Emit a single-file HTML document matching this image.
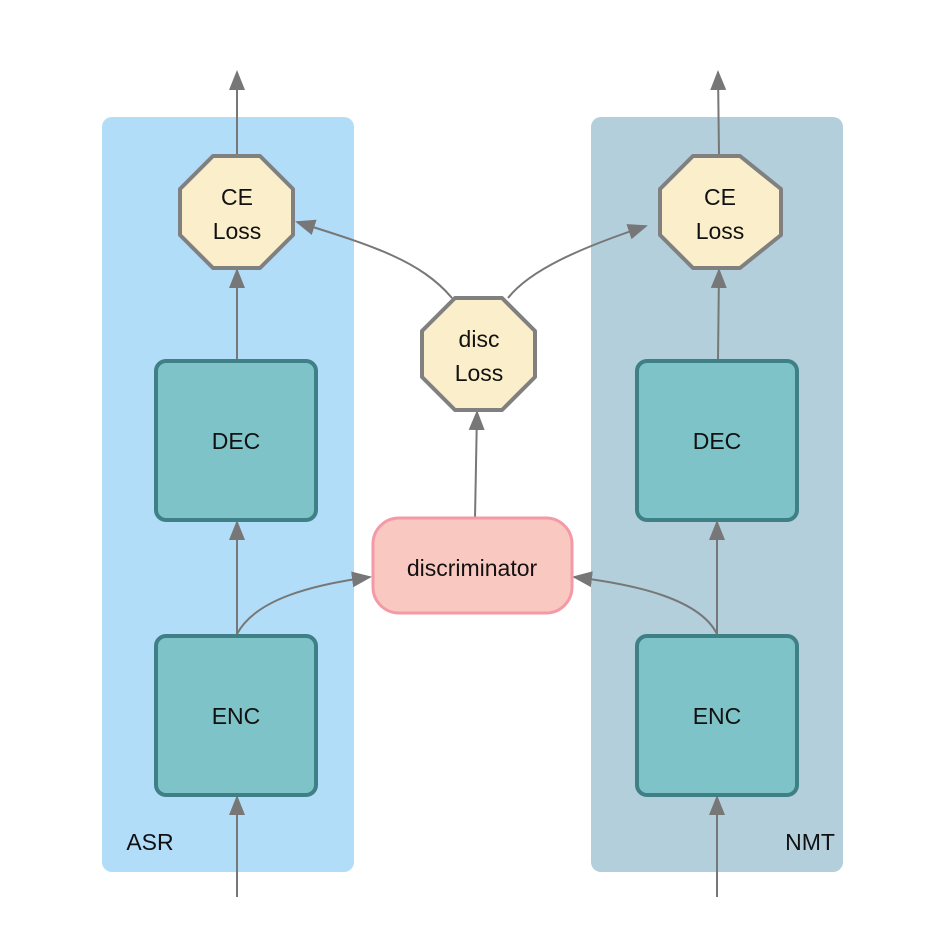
<!DOCTYPE html>
<html><head><meta charset="utf-8"><style>html,body{margin:0;padding:0;background:#fff}svg{display:block}</style></head>
<body>
<svg width="944" height="944" viewBox="0 0 944 944" xmlns="http://www.w3.org/2000/svg" font-family="Liberation Sans, Arial, sans-serif">
<defs>
<marker id="a" markerWidth="10" markerHeight="10" refX="9" refY="5" orient="auto" markerUnits="userSpaceOnUse" viewBox="0 0 10 10">
</marker>
<marker id="h" viewBox="0 0 20 20" refX="18" refY="10" markerWidth="20" markerHeight="20" markerUnits="userSpaceOnUse" orient="auto">
<path d="M0,2 L20,10 L0,18 z" fill="#777"/>
</marker>
</defs>
<rect x="102" y="117" width="252" height="755" rx="10" fill="#b1ddf9"/>
<rect x="591" y="117" width="252" height="755" rx="10" fill="#b3cfdc"/>

<g stroke="#777" stroke-width="2" fill="none" marker-end="url(#h)">
<line x1="237" y1="897" x2="237" y2="797"/>
<line x1="237" y1="634" x2="237" y2="522"/>
<line x1="237" y1="360" x2="237" y2="270"/>
<line x1="237" y1="155" x2="237" y2="72"/>
<line x1="717" y1="897" x2="717" y2="797"/>
<line x1="717" y1="634" x2="717" y2="522"/>
<line x1="718" y1="360" x2="719" y2="270"/>
<line x1="719" y1="155" x2="718" y2="72"/>
<line x1="475" y1="518" x2="477" y2="412"/>
<path d="M237,634 C255,600 310,585 370,577"/>
<path d="M717,634 C700,600 640,585 574,577"/>
<path d="M452,298 C420,260 370,245 297,222"/>
<path d="M508,298 C530,270 580,248 646,226"/>
</g>

<g fill="#7ec3c8" stroke="#3f8086" stroke-width="4">
<rect x="156" y="361" width="160" height="159" rx="10"/>
<rect x="156" y="636" width="160" height="159" rx="10"/>
<rect x="637" y="361" width="160" height="159" rx="10"/>
<rect x="637" y="636" width="160" height="159" rx="10"/>
</g>
<rect x="373" y="518" width="199" height="95" rx="26" fill="#f9c8c0" stroke="#f49aa6" stroke-width="3"/>

<g fill="#faeecb" stroke="#808080" stroke-width="4" stroke-linejoin="round">
<polygon points="213,156 260,156 293,189 293,235 260,268 213,268 180,235 180,189"/>
<polygon points="693,156 740,156 781,189 781,235 740,268 693,268 660,235 660,189" transform="translate(0,0)"/>
<polygon points="455,298 502,298 535,331 535,377 502,410 455,410 422,377 422,331"/>
</g>

<g font-size="23" fill="#111" text-anchor="middle">
<text x="237" y="205">CE</text><text x="237" y="239">Loss</text>
<text x="720" y="205">CE</text><text x="720" y="239">Loss</text>
<text x="479" y="347">disc</text><text x="479" y="381">Loss</text>
<text x="236" y="449">DEC</text>
<text x="236" y="724">ENC</text>
<text x="717" y="449">DEC</text>
<text x="717" y="724">ENC</text>
<text x="472" y="576">discriminator</text>
<text x="150" y="850">ASR</text>
<text x="810" y="850">NMT</text>
</g>
</svg>
</body></html>
